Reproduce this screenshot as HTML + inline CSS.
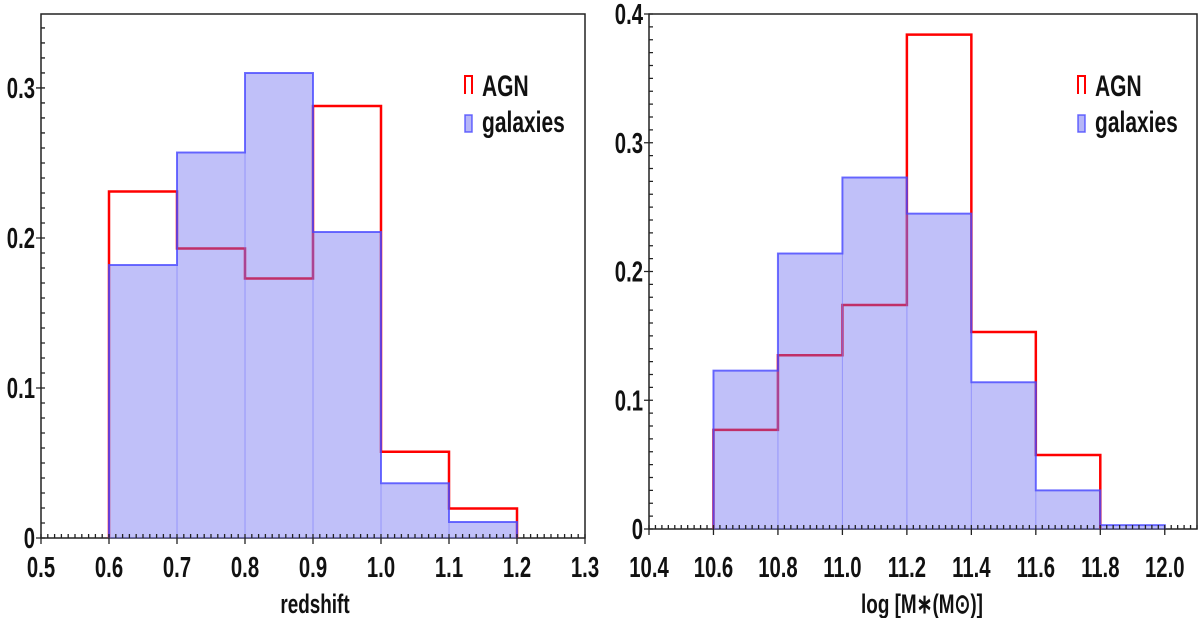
<!DOCTYPE html>
<html><head><meta charset="utf-8"><style>
html,body{margin:0;padding:0;background:#fff;}
svg{display:block;font-family:"Liberation Sans",sans-serif;}
</style></head><body>
<svg id="chart" width="1200" height="618" viewBox="0 0 1200 618"></svg>
<script>
// Left panel data (redshift)
const zEdges = [0.6,0.7,0.8,0.9,1.0,1.1,1.2];
const zAGN = [0.231,0.193,0.173,0.288,0.0575,0.0197];
const zGal = [0.182,0.257,0.310,0.204,0.0365,0.0107];
const zTicks = ["0.5","0.6","0.7","0.8","0.9","1.0","1.1","1.2","1.3"];
const zYTicks = ["0","0.1","0.2","0.3"];
// Right panel data (stellar mass)
const mEdges = [10.6,10.8,11.0,11.2,11.4,11.6,11.8,12.0];
const mAGN = [0.077,0.135,0.174,0.384,0.153,0.0575];
const mGal = [0.123,0.214,0.273,0.245,0.114,0.030,0.003];
const mTicks = ["10.4","10.6","10.8","11.0","11.2","11.4","11.6","11.8","12.0"];
const mYTicks = ["0","0.1","0.2","0.3","0.4"];

const NS="http://www.w3.org/2000/svg";
const svg=document.getElementById('chart');
function mk(tag,attrs,parent){const e=document.createElementNS(NS,tag);for(const k in attrs)e.setAttribute(k,attrs[k]);(parent||svg).appendChild(e);return e;}
function txt(s,x,y,size,anchor,parent){
  const g=mk('g',{transform:`translate(${x},${y}) scale(0.7,1)`},parent);
  const t=mk('text',{x:0,y:0,'font-size':size,'text-anchor':anchor,'font-weight':'bold',fill:'#111'},g);
  t.textContent=s;return t;
}

function panel(cfg){
  const p=mk('g',{});
  
  
  const X=v=>cfg.x0+(v-cfg.xmin)/(cfg.xmax-cfg.xmin)*(cfg.x1-cfg.x0);
  const Y=v=>cfg.yb+(cfg.ytop-cfg.yb)*v/cfg.ymax;
  const fr=mk('rect',{x:cfg.x0,y:cfg.ytop,width:cfg.x1-cfg.x0,height:cfg.yb-cfg.ytop,fill:'none',stroke:'#222','stroke-width':1.5},p);
  
  
  let d='';
  cfg.agn.forEach((v,i)=>{const a=X(cfg.edges[i]),b=X(cfg.edges[i+1]);
    if(i===0)d+=`M${a},${Y(0)}`;
    d+=`L${a},${Y(v)}L${b},${Y(v)}`;});
  d+=`L${X(cfg.edges[cfg.agn.length])},${Y(0)}`;
  const ra=mk('path',{d:d,fill:'none',stroke:'#ff0000','stroke-width':2.5},p);
  
  
  cfg.gal.forEach((v,i)=>{const a=X(cfg.edges[i]),b=X(cfg.edges[i+1]);
    const r=mk('rect',{x:a,y:Y(v),width:b-a,height:Y(0)-Y(v),fill:'rgba(110,110,240,0.43)',stroke:'rgba(120,120,255,0.35)','stroke-width':1},p);
    
    
  });
  let g='';
  cfg.gal.forEach((v,i)=>{const a=X(cfg.edges[i]),b=X(cfg.edges[i+1]);
    if(i===0)g+=`M${a},${Y(0)}`;
    g+=`L${a},${Y(v)}L${b},${Y(v)}`;});
  g+=`L${X(cfg.edges[cfg.gal.length])},${Y(0)}`;
  const gl=mk('path',{d:g,fill:'none',stroke:'rgba(70,70,255,0.75)','stroke-width':2},p);
  
  
  let t='';
  for(let v=cfg.xmin;v<=cfg.xmax+1e-9;v+=cfg.xminor){const x=X(v);t+=`M${x},${cfg.yb}L${x},${cfg.yb-4}`;}
  for(let v=0;v<=cfg.ymax+1e-9;v+=0.01){const y=Y(v);t+=`M${cfg.x0},${y}L${cfg.x0+4},${y}`;}
  cfg.xt.forEach(s=>{const x=X(parseFloat(s));t+=`M${x},${cfg.yb}L${x},${cfg.yb+6}`;});
  cfg.yt.forEach(s=>{const y=Y(parseFloat(s));t+=`M${cfg.x0},${y}L${cfg.x0-5},${y}`;});
  const tk=mk('path',{d:t,stroke:'#222','stroke-width':1.3,fill:'none'},p);
  
  
  cfg.xt.forEach(s=>{const e=txt(s,X(parseFloat(s)),577,29,'middle',p);
    });
  cfg.yt.forEach(s=>{const e=txt(s,cfg.x0-6,Y(parseFloat(s))+10,29,'end',p);
    });
  const xt=txt(cfg.xtitle,cfg.titleX,613,27,'middle',p);
  
  
  const lg=mk('g',{},p);
  
  
  const lx=cfg.legX, ly=cfg.legY;
  mk('path',{d:`M${lx},${ly+9}L${lx},${ly-9}L${lx+7},${ly-9}L${lx+7},${ly+9}`,fill:'none',stroke:'#ff0000','stroke-width':2},lg);
  const l1=txt('AGN',lx+17,ly+11,30,'start',lg);
  
  mk('rect',{x:lx,y:ly+30,width:7,height:17,fill:'rgba(110,110,240,0.5)',stroke:'rgba(70,70,255,0.8)','stroke-width':1.5},lg);
  const l2=txt('galaxies',lx+17,ly+47,30,'start',lg);
  
}

panel({name:'redshift-panel',x0:41,x1:585,xmin:0.5,xmax:1.3,yb:538,ytop:14,ymax:0.3493,
  edges:zEdges,agn:zAGN,gal:zGal,xt:zTicks,yt:zYTicks,xminor:0.01,xtitle:'redshift',titleX:315,legX:465,legY:85});
panel({name:'mass-panel',x0:649,x1:1197,xmin:10.4,xmax:12.1,yb:529,ytop:14,ymax:0.4,
  edges:mEdges,agn:mAGN,gal:mGal,xt:mTicks,yt:mYTicks,xminor:0.02,xtitle:'log [M\u2217(M\u2299)]',titleX:922,legX:1078,legY:85});
</script>
</body></html>
